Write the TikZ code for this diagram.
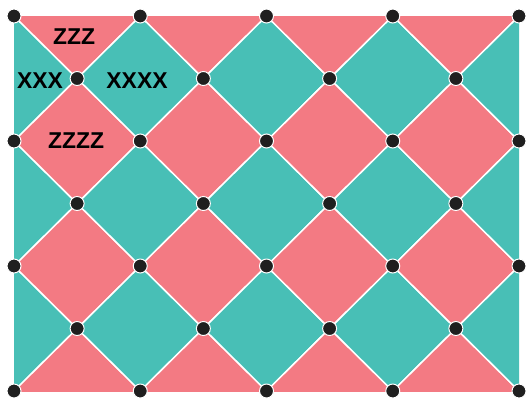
\documentclass[tikz,border=0pt]{standalone}
\usepackage{fontspec}
\setsansfont{Liberation Sans}
\usetikzlibrary{calc}
\definecolor{tilered}{HTML}{F37A83}
\definecolor{tileteal}{HTML}{48BFB6}
\definecolor{dotgray}{HTML}{1F1F1F}

\begin{document}
\begin{tikzpicture}[
    x=1bp, y=-1bp,
    tile/.style={draw=white, line width=1.5bp, line join=miter},
    dot/.style={circle, fill=dotgray, draw=white, line width=1bp, inner sep=0pt, minimum size=14bp},
    lbl/.style={font=\sffamily\bfseries\fontsize{23}{27}\selectfont, inner sep=0pt}
]
\useasboundingbox (0,0) rectangle (526,398);

% lattice points (half steps)
\foreach \i in {-1,...,9}
  \foreach \j in {-1,...,7}
    \coordinate (p-\i-\j) at (14+63.125*\i, 16+62.5*\j);

% diamonds, one row of colour per half step
\begin{scope}
\clip (p-0-0) rectangle (p-8-6);
\foreach \i in {0,...,8}
  \foreach \j in {0,...,6} {
    \pgfmathtruncatemacro{\odd}{mod(\i+\j,2)}
    \pgfmathtruncatemacro{\row}{mod(\j,2)}
    \pgfmathtruncatemacro{\il}{\i-1}
    \pgfmathtruncatemacro{\ir}{\i+1}
    \pgfmathtruncatemacro{\ju}{\j-1}
    \pgfmathtruncatemacro{\jd}{\j+1}
    \ifnum\odd=1
      \ifnum\row=0 \def\tilecol{tilered}\else \def\tilecol{tileteal}\fi
      \filldraw[tile, fill=\tilecol] (p-\il-\j) -- (p-\i-\ju) -- (p-\ir-\j) -- (p-\i-\jd) -- cycle;
    \fi
  }
\end{scope}

% dots on corners and centres
\foreach \i in {0,2,...,8}
  \foreach \j in {0,2,4,6}
    \node[dot] (d-\i-\j) at (p-\i-\j) {};
\foreach \i in {1,3,5,7}
  \foreach \j in {1,3,5}
    \node[dot] (d-\i-\j) at (p-\i-\j) {};

% labels
\node[lbl] (zzz) at (74,37) {ZZZ};
\node[lbl] (xxx) at (40,81) {XXX};
\node[lbl] (xxxx) at (137,81) {XXXX};
\node[lbl] (zzzz) at (76,141) {ZZZZ};

\end{tikzpicture}
\end{document}
